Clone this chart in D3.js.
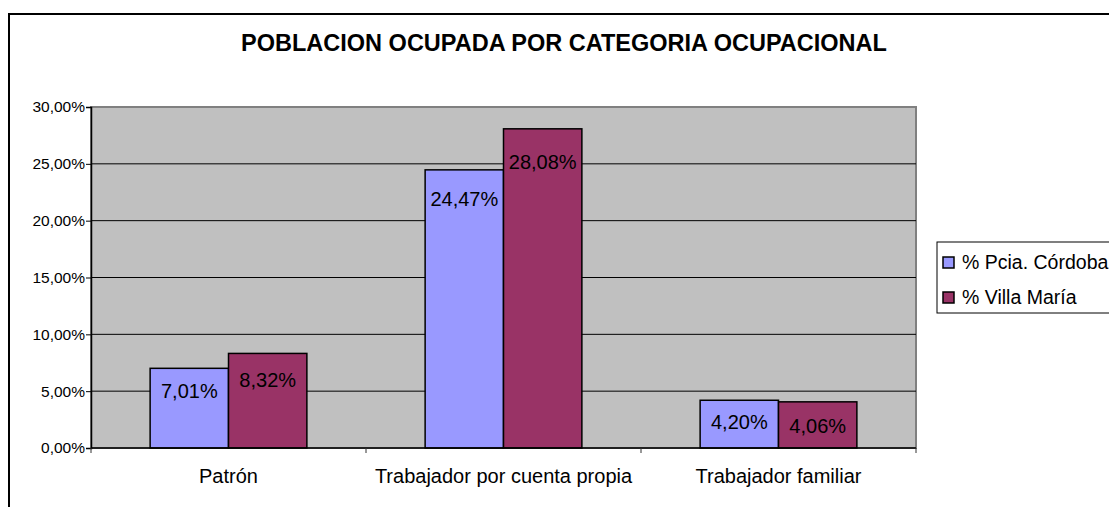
<!DOCTYPE html>
<html>
<head>
<meta charset="utf-8">
<script src="https://cdn.jsdelivr.net/npm/d3@7"></script>
<style>
  body { margin: 0; background: #fff; }
  text { font-family: "Liberation Sans", Arial, sans-serif; }
</style>
</head>
<body>
<div class="chart"></div>
<script>
var w = 1109;
var h = 507;

// data
var categories = ["Patrón", "Trabajador por cuenta propia", "Trabajador familiar"];
var seriesNames = ["% Pcia. Córdoba", "% Villa María"];
var cordoba = [7.01, 24.47, 4.20];
var villaMaria = [8.32, 28.08, 4.06];
var yTicks = [0, 5, 10, 15, 20, 25, 30];
var colors = ["#9999FF", "#993366"];

var series = [cordoba, villaMaria];

var svg = d3.select(".chart")
    .append("svg")
    .attr("width", w)
    .attr("height", h);

// outer chart border (runs off the right and bottom edges)
svg.append("path")
    .attr("d", "M9,520 L9,14 L1120,14")
    .attr("fill", "none")
    .attr("stroke", "#000")
    .attr("stroke-width", 2);

svg.append("text")
    .attr("x", 564)
    .attr("y", 51)
    .attr("text-anchor", "middle")
    .style("font-size", "23.5px")
    .style("font-weight", "bold")
    .text("POBLACION OCUPADA POR CATEGORIA OCUPACIONAL");

var plot = {left: 91, top: 107, right: 916, bottom: 448};

var x = d3.scaleBand()
    .domain(categories)
    .range([plot.left, plot.right]);

var xInner = d3.scaleBand()
    .domain(d3.range(series.length))
    .range([0, x.bandwidth() * 0.57]);

var y = d3.scaleLinear()
    .domain([0, 30])
    .range([plot.bottom, plot.top]);

// gray plot area
svg.append("rect")
    .attr("x", plot.left)
    .attr("y", plot.top)
    .attr("width", plot.right - plot.left)
    .attr("height", plot.bottom - plot.top)
    .attr("fill", "#C0C0C0")
    .attr("stroke", "#808080")
    .attr("stroke-width", 2);

// gridlines
svg.selectAll(".grid")
    .data(yTicks.filter(function(d) { return d > 0 && d < 30; }))
    .enter()
    .append("line")
    .attr("x1", plot.left)
    .attr("x2", plot.right)
    .attr("y1", function(d) { return y(d); })
    .attr("y2", function(d) { return y(d); })
    .attr("stroke", "#000")
    .attr("stroke-width", 1);

// bars
categories.forEach(function(cat, i) {
    var x0 = x(cat) + (x.bandwidth() - xInner.range()[1]) / 2;
    series.forEach(function(s, j) {
        svg.append("rect")
            .attr("x", x0 + xInner(j))
            .attr("y", y(s[i]))
            .attr("width", xInner.bandwidth())
            .attr("height", y(0) - y(s[i]))
            .attr("fill", colors[j])
            .attr("stroke", "#000")
            .attr("stroke-width", 1.5);

        svg.append("text")
            .attr("x", x0 + xInner(j) + xInner.bandwidth() / 2)
            .attr("y", y(s[i]) + 20 + j * 3 + s[i] * 0.35)
            .attr("dy", "0.36em")
            .attr("text-anchor", "middle")
            .style("font-size", "20px")
            .text(d3.format(".2f")(s[i]).replace(".", ",") + "%");
    });
});

// y axis
var yAxis = d3.axisLeft(y)
    .tickValues(yTicks)
    .tickSize(5)
    .tickFormat(function(d) { return d3.format(".2f")(d).replace(".", ",") + "%"; });

var gy = svg.append("g")
    .attr("transform", "translate(" + plot.left + ",0)")
    .call(yAxis);
gy.select(".domain").attr("stroke", "#000").attr("stroke-width", 1.5);
gy.selectAll(".tick line").attr("stroke", "#000");
gy.selectAll(".tick text")
    .attr("x", -6)
    .style("font-size", "15.5px")
    .style("font-family", "'Liberation Sans', Arial, sans-serif")
    .attr("fill", "#000");

// x axis
var gx = svg.append("g")
    .attr("transform", "translate(0," + plot.bottom + ")");
gx.append("line")
    .attr("x1", plot.left)
    .attr("x2", plot.right)
    .attr("stroke", "#000")
    .attr("stroke-width", 1.5);
gx.selectAll(".ctick")
    .data(categories.concat(["end"]))
    .enter()
    .append("line")
    .attr("x1", function(d, i) { return plot.left + i * x.bandwidth(); })
    .attr("x2", function(d, i) { return plot.left + i * x.bandwidth(); })
    .attr("y1", 0)
    .attr("y2", 5)
    .attr("stroke", "#333");
gx.selectAll(".clabel")
    .data(categories)
    .enter()
    .append("text")
    .attr("x", function(d) { return x(d) + x.bandwidth() / 2; })
    .attr("y", 35)
    .attr("text-anchor", "middle")
    .style("font-size", "20px")
    .text(function(d) { return d; });

// legend
var legend = svg.append("g").attr("transform", "translate(937,242)");
legend.append("rect")
    .attr("width", 200)
    .attr("height", 71)
    .attr("fill", "#fff")
    .attr("stroke", "#000")
    .attr("stroke-width", 1);

seriesNames.forEach(function(name, i) {
    var row = legend.append("g").attr("transform", "translate(0," + (20 + i * 35) + ")");
    row.append("rect")
        .attr("x", 6)
        .attr("y", -5)
        .attr("width", 11)
        .attr("height", 11)
        .attr("fill", colors[i])
        .attr("stroke", "#000")
        .attr("stroke-width", 1.5);
    row.append("text")
        .attr("x", 25)
        .attr("dy", "0.36em")
        .style("font-size", "19.5px")
        .text(name);
});
</script>
</body>
</html>
